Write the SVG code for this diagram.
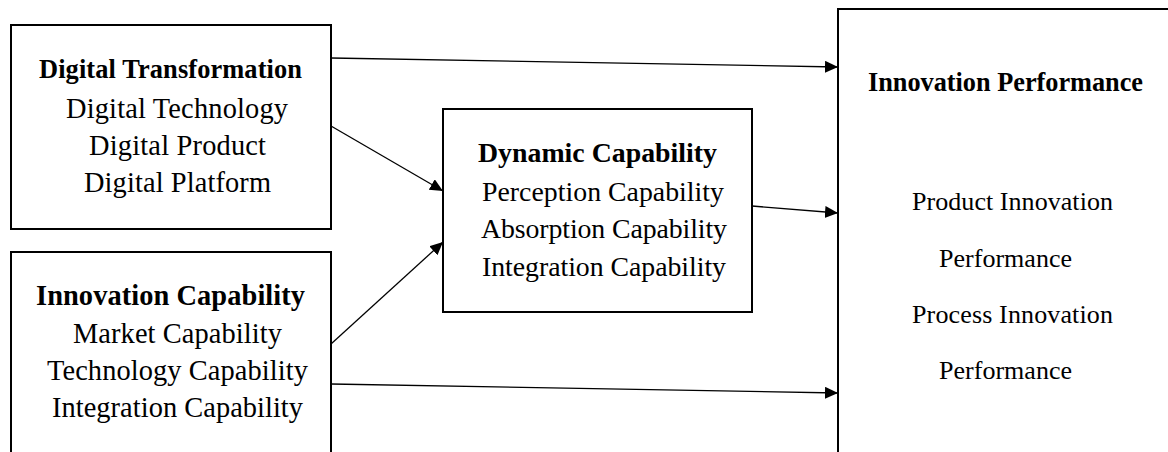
<svg xmlns="http://www.w3.org/2000/svg" width="1168" height="452" viewBox="0 0 1168 452">
<style>
.box{fill:#fff;stroke:#000;stroke-width:2}
.t{font-family:"Liberation Serif","Times New Roman",serif;fill:#000;text-anchor:middle}
.b{font-weight:bold}
.c{stroke:#000;stroke-width:1.3;fill:none;marker-end:url(#ah)}
</style>
<defs>
<marker id="ah" markerUnits="userSpaceOnUse" markerWidth="14" markerHeight="14" refX="13" refY="6" orient="auto">
<path d="M0,0 L13,6 L0,12 z" fill="#000"/>
</marker>
</defs>
<rect width="1168" height="452" fill="#fff"/>
<g id="connectors">
<line class="c" x1="331" y1="58" x2="838" y2="67"/>
<line class="c" x1="331" y1="126" x2="443" y2="191"/>
<line class="c" x1="331" y1="344" x2="443" y2="242"/>
<line class="c" x1="752" y1="206" x2="838" y2="213"/>
<line class="c" x1="331" y1="384" x2="838" y2="393"/>
</g>
<g id="digital-transformation">
<rect class="box" x="11" y="25" width="320" height="204"/>
<text class="t b" x="170.5" y="78" font-size="26.4" textLength="263">Digital Transformation</text>
<text class="t" x="177" y="118" font-size="28.4" textLength="222">Digital Technology</text>
<text class="t" x="177.5" y="155" font-size="28.4" textLength="177">Digital Product</text>
<text class="t" x="177.5" y="192" font-size="28.4" textLength="187">Digital Platform</text>
</g>
<g id="innovation-capability">
<rect class="box" x="11" y="252" width="320" height="220"/>
<text class="t b" x="170.5" y="305" font-size="28.4" textLength="269">Innovation Capability</text>
<text class="t" x="177.5" y="343" font-size="28.4" textLength="209">Market Capability</text>
<text class="t" x="177.5" y="380" font-size="28.4" textLength="261">Technology Capability</text>
<text class="t" x="177.5" y="417" font-size="28.4" textLength="251">Integration Capability</text>
</g>
<g id="dynamic-capability">
<rect class="box" x="443" y="109" width="309" height="203"/>
<text class="t b" x="597.5" y="162" font-size="27.8" textLength="239">Dynamic Capability</text>
<text class="t" x="603" y="201" font-size="27.8" textLength="242">Perception Capability</text>
<text class="t" x="604" y="238" font-size="27.8" textLength="246">Absorption Capability</text>
<text class="t" x="604" y="276" font-size="27.8" textLength="244">Integration Capability</text>
</g>
<g id="innovation-performance">
<rect class="box" x="838" y="9" width="340" height="460"/>
<text class="t b" x="1005.5" y="91" font-size="26.3" textLength="275">Innovation Performance</text>
<text class="t" x="1012.5" y="210" font-size="26" textLength="201">Product Innovation</text>
<text class="t" x="1005.5" y="267" font-size="26" textLength="133">Performance</text>
<text class="t" x="1012.5" y="323" font-size="26" textLength="201">Process Innovation</text>
<text class="t" x="1005.5" y="379" font-size="26" textLength="133">Performance</text>
</g>
</svg>
